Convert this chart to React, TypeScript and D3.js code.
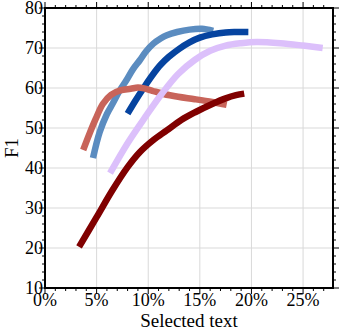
import React, { useEffect, useRef } from "react";
import * as d3 from "d3";

// x = selected text (%), y = F1
const lightBlue: [number, number][] = [
  [4.65, 42.5], [5.3, 49], [6.0, 53.5], [6.6, 56.3], [7.2, 59.2], [7.9, 62],
  [8.5, 64.6], [9.2, 67], [9.8, 69.2], [10.5, 71.1], [11.2, 72.4], [11.8, 73.2],
  [12.8, 74], [14.0, 74.6], [15.2, 74.8], [16.3, 74.3],
];
const darkBlue: [number, number][] = [
  [8.0, 53.6], [8.8, 57], [9.6, 60.2], [10.4, 63.2], [11.2, 65.8], [12.0, 67.8],
  [13.0, 69.8], [14.0, 71.4], [15.0, 72.6], [16.2, 73.4], [17.5, 73.9], [18.5, 74], [19.7, 74],
];
const lavender: [number, number][] = [
  [6.3, 38.7], [8.0, 46.2], [9.7, 52.7], [11.3, 58.5], [12.9, 63.5], [14.5, 67],
  [16.0, 69.3], [17.5, 70.6], [19.0, 71.2], [20.5, 71.5], [22.8, 71.2], [25.0, 70.6], [26.9, 70],
];
const salmon: [number, number][] = [
  [3.7, 44.5], [4.3, 48.5], [4.9, 52.2], [5.6, 56], [6.4, 58.3], [7.3, 59.4],
  [8.3, 59.8], [9.0, 60.1], [9.6, 59.9], [10.4, 59.3], [11.5, 58.5], [12.9, 57.8],
  [14.5, 57.2], [16.2, 56.5], [17.6, 55.8],
];
const darkRed: [number, number][] = [
  [3.3, 20.3], [5.0, 27.7], [6.5, 34.3], [8.0, 40.2], [9.2, 44], [10.5, 47],
  [11.8, 49.4], [13.2, 52], [14.6, 54], [16.2, 56], [17.5, 57.4], [18.5, 58.2], [19.3, 58.6],
];

const series = [
  { data: lightBlue, color: "#5b8cc0" },
  { data: darkBlue, color: "#0644a0" },
  { data: salmon, color: "#c8645a" },
  { data: lavender, color: "#dcc0fb" },
  { data: darkRed, color: "#800000" },
];

const xTicks = [0, 5, 10, 15, 20, 25];
const yTicks = [10, 20, 30, 40, 50, 60, 70, 80];

export default function App() {
  const ref = useRef<SVGSVGElement>(null);

  useEffect(() => {
    const width = 339, height = 334;
    const m = { left: 45, top: 8, right: 6, bottom: 46 };
    const font = "'Liberation Serif', 'DejaVu Serif', serif";

    const svg = d3.select(ref.current);
    svg.selectAll("*").remove();

    const x = d3.scaleLinear().domain([0, 27.9]).range([m.left, width - m.right]);
    const y = d3.scaleLinear().domain([10, 80]).range([height - m.bottom, m.top]);

    // grid
    const grid = svg.append("g").attr("stroke", "#d9d9d9").attr("stroke-width", 1);
    grid.selectAll("line.gx")
      .data(xTicks.slice(1))
      .enter().append("line")
        .attr("x1", (d) => x(d)).attr("x2", (d) => x(d))
        .attr("y1", y(10)).attr("y2", y(80));
    grid.selectAll("line.gy")
      .data(yTicks.slice(1, -1))
      .enter().append("line")
        .attr("y1", (d) => y(d)).attr("y2", (d) => y(d))
        .attr("x1", x.range()[0]).attr("x2", x.range()[1]);

    // series
    const line = d3.line<[number, number]>()
      .x((d) => x(d[0]))
      .y((d) => y(d[1]))
      .curve(d3.curveCatmullRom.alpha(0.5));

    svg.append("g").selectAll("path")
      .data(series)
      .enter().append("path")
        .attr("d", (d) => line(d.data))
        .attr("fill", "none")
        .attr("stroke", (d) => d.color)
        .attr("stroke-width", 6.5)
        .attr("stroke-linejoin", "round");

    // ticks on all four sides, outward
    const xMinor = d3.range(0, 28, 1);
    const yMinor = d3.range(10, 80.01, 2);
    const tk = svg.append("g").attr("stroke", "#000").attr("stroke-width", 1);
    const [x0, x1] = x.range();
    const [y0, y1] = y.range();
    xMinor.forEach((v) => {
      const len = v % 5 === 0 ? 6 : 3;
      tk.append("line").attr("x1", x(v)).attr("x2", x(v)).attr("y1", y0).attr("y2", y0 + len);
      tk.append("line").attr("x1", x(v)).attr("x2", x(v)).attr("y1", y1).attr("y2", y1 - len);
    });
    yMinor.forEach((v) => {
      const len = v % 10 === 0 ? 6 : 3;
      tk.append("line").attr("y1", y(v)).attr("y2", y(v)).attr("x1", x0).attr("x2", x0 - len);
      tk.append("line").attr("y1", y(v)).attr("y2", y(v)).attr("x1", x1).attr("x2", x1 + len);
    });

    // frame
    svg.append("rect")
      .attr("x", x0).attr("y", y1)
      .attr("width", x1 - x0).attr("height", y0 - y1)
      .attr("fill", "none").attr("stroke", "#000").attr("stroke-width", 2);

    // tick labels
    svg.append("g").selectAll("text")
      .data(xTicks)
      .enter().append("text")
        .attr("x", (d) => x(d)).attr("y", y0 + 18)
        .attr("text-anchor", "middle")
        .style("font-family", font).style("font-size", "18px")
        .text((d) => `${d}%`);
    svg.append("g").selectAll("text")
      .data(yTicks)
      .enter().append("text")
        .attr("x", x0 - 2).attr("y", (d) => y(d))
        .attr("dy", "0.34em")
        .attr("text-anchor", "end")
        .style("font-family", font).style("font-size", "18px")
        .text((d) => d);

    // axis titles
    svg.append("text")
      .attr("x", (x0 + x1) / 2).attr("y", 327)
      .attr("text-anchor", "middle")
      .style("font-family", font).style("font-size", "19px")
      .text("Selected text");
    svg.append("text")
      .attr("transform", `translate(18, ${(y0 + y1) / 2}) rotate(-90)`)
      .attr("text-anchor", "middle")
      .style("font-family", font).style("font-size", "19px")
      .text("F1");
  }, []);

  return (
    <svg ref={ref} width={339} height={334}
      style={{ position: "absolute", left: 0, top: 0, background: "#fff" }} />
  );
}
